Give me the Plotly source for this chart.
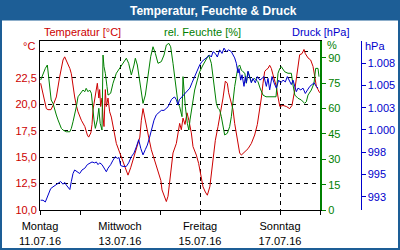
import pandas as pd
import plotly.graph_objects as go

# ---- data (hours since 11.07.16 00:00) ----
start = "2016-07-11"
x_range = ["2016-07-11", "2016-07-18"]
x_tickvals = ["2016-07-11", "2016-07-13", "2016-07-15", "2016-07-17"]
x_ticktext = ["Montag<br>11.07.16", "Mittwoch<br>13.07.16", "Freitag<br>15.07.16", "Sonntag<br>17.07.16"]

temp_h = [0.4, 3.8, 4.8, 6.6, 7.8, 9.8, 11.8, 13.8, 14.8, 16.4,
          17.9, 18.8, 19.8, 20.8, 21.8, 22.8, 24.8, 26.9, 28.4, 29.2,
          30.5, 31.2, 31.8, 32.8, 33.8, 34.4, 35.3, 35.8, 36.4, 37.2,
          37.8, 38.4, 39.2, 39.8, 40.8, 41.8, 42.8, 44.4, 45.8, 47.9,
          49.8, 51.8, 52.8, 54.4, 55.8, 57.8, 59.9, 60.8, 61.8, 62.8,
          63.8, 65.2, 66.8, 68.9, 70.8, 72.5, 73.2, 74.4, 75.8, 76.8,
          77.8, 78.8, 79.8, 81.8, 82.8, 83.8, 84.8, 85.8, 87.0, 88.2,
          89.3, 90.8, 91.8, 93.8, 95.2, 96.4, 97.8, 99.2, 100.4, 101.9,
          102.8, 103.8, 105.2, 106.8, 108.4, 109.8, 111.2, 112.4, 113.2, 114.5,
          115.8, 116.8, 117.8, 118.8, 119.8, 120.8, 122.9, 124.8, 126.8, 128.8,
          130.4, 131.9, 132.8, 133.8, 134.8, 135.8, 136.8, 137.8, 138.8, 139.8,
          140.8, 141.8, 142.8, 143.9, 145.8, 147.8, 149.8, 151.2, 152.9, 154.4,
          155.8, 157.2, 158.4, 159.2, 160.8, 162.4, 163.8, 164.9, 165.8, 166.8,
          167.8]
temp = [22.0, 19.6, 19.5, 19.5, 19.9, 20.7, 22.6, 24.2, 24.5, 24.0,
        23.4, 22.9, 21.7, 20.7, 19.9, 19.3, 18.5, 17.9, 17.1, 16.9,
        17.3, 18.1, 19.5, 20.4, 21.7, 22.0, 20.6, 21.4, 19.8, 20.6,
        18.8, 17.9, 21.4, 19.8, 20.6, 19.3, 18.8, 17.6, 16.3, 15.4,
        14.6, 13.6, 13.3, 14.0, 14.7, 15.7, 16.9, 18.5, 19.6, 18.8,
        17.9, 16.9, 15.7, 14.6, 13.8, 12.8, 11.9, 11.3, 10.8, 11.3,
        12.5, 14.1, 15.4, 16.3, 17.4, 18.2, 17.6, 18.7, 18.1, 19.2,
        18.5, 17.3, 16.0, 15.2, 14.4, 13.5, 12.2, 11.7, 11.4, 12.2,
        13.5, 15.1, 16.6, 17.9, 19.2, 20.6, 22.2, 22.0, 21.1, 20.3,
        19.5, 18.2, 17.3, 16.6, 15.4, 15.2, 15.5, 15.8, 16.3, 17.1,
        18.1, 19.5, 20.6, 22.0, 23.1, 23.3, 23.4, 23.7, 23.4, 22.8,
        22.3, 21.7, 20.7, 19.8, 19.9, 19.8, 19.6, 19.9, 21.4, 23.3,
        24.7, 24.8, 25.2, 24.8, 24.4, 24.2, 23.6, 22.6, 21.7, 21.4,
        21.1]

hum_h = [0.4, 1.8, 3.2, 4.4, 5.2, 5.9, 6.7, 7.8, 8.8, 9.8,
         10.8, 11.8, 12.8, 13.8, 15.8, 17.9, 18.8, 19.8, 20.8, 21.8,
         22.8, 24.4, 25.8, 26.9, 27.7, 28.8, 29.8, 30.8, 31.4, 32.4,
         33.2, 34.4, 35.3, 36.1, 37.2, 37.8, 38.4, 39.2, 40.2, 40.8,
         42.4, 43.8, 45.8, 47.9, 49.8, 51.8, 53.2, 54.8, 56.4, 57.2,
         58.4, 59.9, 60.8, 61.8, 63.2, 64.8, 66.4, 67.8, 69.2, 70.8,
         72.8, 74.4, 75.8, 77.3, 78.4, 79.8, 80.8, 81.8, 82.8, 83.8,
         85.2, 85.8, 86.4, 87.2, 88.4, 89.3, 90.0, 90.8, 91.8, 92.8,
         94.4, 95.8, 97.8, 99.8, 101.2, 102.8, 103.8, 104.8, 105.8, 106.8,
         107.8, 108.8, 109.8, 110.8, 112.4, 113.8, 114.8, 115.8, 116.8, 117.8,
         118.8, 119.8, 120.8, 121.8, 122.9, 123.8, 124.8, 125.8, 126.8, 128.8,
         130.8, 132.0, 133.8, 135.6, 138.6, 141.6, 142.8, 143.9, 144.8, 146.8,
         148.8, 150.8, 151.8, 152.9, 154.8, 156.8, 158.8, 159.8, 160.8, 162.8,
         164.4, 165.4, 166.8, 167.4]
hum = [76.9, 80.9, 83.8, 85.8, 78.9, 69.1, 65.1, 63.1, 59.2, 56.2,
       53.3, 50.3, 48.3, 47.3, 46.3, 46.3, 48.3, 52.2, 56.2, 61.1,
       67.0, 69.1, 71.0, 70.0, 72.0, 70.0, 71.0, 69.1, 61.1, 53.3,
       48.3, 53.3, 60.2, 51.3, 47.3, 91.7, 84.8, 80.9, 73.0, 68.0,
       69.1, 75.0, 80.9, 83.8, 86.8, 89.8, 86.8, 79.9, 85.8, 89.8,
       85.8, 76.9, 71.0, 63.1, 68.0, 78.9, 90.7, 96.6, 92.7, 86.8,
       87.8, 91.7, 97.6, 98.6, 96.6, 86.8, 78.9, 71.0, 63.1, 61.1,
       55.2, 78.9, 69.1, 61.1, 51.3, 47.3, 53.3, 59.2, 65.1, 71.0,
       76.9, 81.8, 85.8, 89.8, 91.7, 86.8, 78.9, 69.1, 63.1, 60.2,
       59.2, 55.2, 49.3, 44.4, 45.4, 49.3, 55.2, 66.1, 73.0, 78.9,
       84.8, 85.8, 82.8, 81.8, 80.9, 75.0, 81.8, 78.9, 75.9, 77.9,
       75.9, 72.2, 68.0, 67.0, 67.0, 67.0, 80.9, 83.8, 84.8, 81.8,
       80.9, 80.9, 74.0, 68.0, 66.1, 65.1, 63.1, 64.1, 68.0, 71.0,
       75.0, 83.8, 83.8, 78.9]

pres_h = [0.4, 1.8, 3.2, 4.8, 6.4, 7.8, 9.2, 10.8, 12.4, 13.8,
          14.8, 15.8, 16.8, 17.9, 18.8, 19.8, 20.8, 22.4, 23.8, 25.2,
          26.9, 28.4, 29.8, 31.2, 32.8, 33.8, 34.8, 35.8, 37.2, 38.4,
          39.8, 40.8, 42.4, 43.8, 45.2, 46.4, 47.4, 48.4, 49.8, 51.8,
          53.2, 54.8, 56.4, 57.8, 59.2, 60.5, 61.8, 63.2, 64.4, 65.8,
          67.2, 68.4, 69.8, 71.2, 72.8, 74.4, 75.8, 76.8, 77.8, 78.8,
          79.8, 80.8, 81.8, 82.8, 83.6, 85.1, 86.4, 88.0, 89.9, 91.2,
          92.8, 94.4, 95.8, 97.2, 98.8, 100.4, 101.8, 102.8, 103.8, 105.2,
          106.4, 107.8, 109.2, 110.4, 111.8, 113.2, 114.8, 115.8, 116.8, 117.8,
          118.8, 119.4, 120.4, 121.2, 122.4, 123.2, 123.8, 124.8, 125.8, 126.8,
          127.8, 129.2, 130.4, 131.9, 133.2, 134.4, 135.8, 136.8, 137.8, 139.2,
          140.4, 141.8, 143.2, 144.5, 145.8, 147.2, 148.4, 149.8, 150.8, 151.8,
          152.9, 153.8, 154.8, 156.5, 157.8, 159.2, 160.5, 161.9, 163.2, 164.4,
          165.8, 166.8]
pres = [992.1, 992.1, 991.9, 992.7, 993.4, 993.6, 993.8, 994.0, 994.2, 993.9,
        994.1, 993.8, 993.6, 993.3, 994.2, 995.1, 995.5, 995.3, 995.1, 995.5,
        995.7, 996.1, 996.3, 996.4, 996.3, 996.4, 996.1, 996.3, 996.1, 995.7,
        995.3, 995.7, 996.1, 996.6, 997.0, 996.8, 996.9, 996.0, 995.9, 995.9,
        996.3, 997.0, 997.4, 998.1, 998.9, 997.9, 997.2, 997.8, 998.3, 999.2,
        1000.2, 1001.1, 1001.7, 1001.9, 1002.2, 1002.2, 1002.4, 1002.6, 1003.0, 1003.4,
        1003.6, 1003.7, 1003.4, 1002.8, 1003.4, 1003.7, 1003.9, 1004.3, 1004.7, 1005.3,
        1006.0, 1006.7, 1007.3, 1007.7, 1007.9, 1008.2, 1008.4, 1008.2, 1008.8, 1008.6,
        1008.2, 1009.0, 1008.6, 1009.2, 1008.8, 1009.0, 1008.8, 1008.4, 1008.1, 1007.5,
        1006.4, 1006.9, 1005.6, 1006.2, 1004.9, 1006.0, 1005.3, 1006.6, 1006.0, 1005.3,
        1005.8, 1005.3, 1006.0, 1005.6, 1005.8, 1006.0, 1004.9, 1005.8, 1004.5, 1006.0,
        1005.3, 1004.7, 1005.6, 1005.3, 1005.6, 1005.4, 1006.0, 1005.4, 1005.1, 1005.6,
        1004.9, 1004.3, 1004.7, 1004.5, 1004.7, 1004.1, 1004.5, 1004.9, 1005.1, 1005.3,
        1004.9, 1004.7]

temp_ticks = [10, 12.5, 15, 17.5, 20, 22.5, 25]
temp_ticktext = ["10,0", "12,5", "15,0", "17,5", "20,0", "22,5", ""]
hum_ticks = [0, 15, 30, 45, 60, 75, 90]
pres_ticks = [992.5, 995, 997.5, 1000, 1002.5, 1005, 1007.5]

# ---- styles ----
RED, GREEN, BLUE = "#cc0000", "#008000", "#0000cc"
BAR = "#1d5e96"
FONT = "Liberation Sans"
W, H = 400, 250

def tt(hours):
    return pd.Timestamp(start) + pd.to_timedelta(hours, unit="h")

def px(x):
    return x / W

def py(y):
    return 1 - y / H

fig = go.Figure()
fig.add_trace(go.Scatter(x=tt(temp_h), y=temp, mode="lines", line=dict(color=RED, width=1), yaxis="y"))
fig.add_trace(go.Scatter(x=tt(hum_h), y=hum, mode="lines", line=dict(color=GREEN, width=1), yaxis="y2"))
fig.add_trace(go.Scatter(x=tt(pres_h), y=pres, mode="lines", line=dict(color=BLUE, width=1), yaxis="y3"))

fig.update_layout(
    width=W, height=H, margin=dict(l=0, r=0, t=0, b=0, autoexpand=False),
    paper_bgcolor="white", plot_bgcolor="white", showlegend=False,
    separators=",.",
    font=dict(family=FONT, size=11, color="black"),
    xaxis=dict(
        domain=[px(40), px(320)], type="date", automargin=False,
        range=x_range,
        tickvals=x_tickvals, ticktext=x_ticktext,
        ticks="outside", ticklen=4, tickcolor="black", ticklabelstandoff=2,
        showline=True, linecolor="black", linewidth=1, mirror=True,
        showgrid=True, gridcolor="black", gridwidth=1, griddash="4px,4px",
        minor=dict(dtick=86400000, tick0="2016-07-11", ticks="outside", ticklen=4, tickcolor="black", showgrid=False),
        tickfont=dict(size=11, color="black"), fixedrange=True,
    ),
    yaxis=dict(
        domain=[py(210), py(41)], range=[10, 26], automargin=False,
        tickvals=temp_ticks, ticktext=temp_ticktext,
        ticks="", showline=True, linecolor="black", linewidth=1,
        showgrid=True, gridcolor="black", gridwidth=1, griddash="4px,4px",
        zeroline=False, tickfont=dict(size=11, color=RED),
    ),
    yaxis2=dict(
        overlaying="y", side="right", anchor="x", range=[0, 100], automargin=False,
        tickvals=hum_ticks, ticks="outside", ticklen=4, tickcolor=GREEN,
        showline=True, linecolor=GREEN, linewidth=2, showgrid=False, zeroline=False,
        tickfont=dict(size=11, color=GREEN),
    ),
    yaxis3=dict(
        overlaying="y", side="right", anchor="free", position=px(360.5), range=[991, 1010],
        automargin=False,
        tickvals=pres_ticks, tickformat=",.0f", ticks="outside", ticklen=4, tickcolor=BLUE,
        showline=True, linecolor=BLUE, linewidth=1, showgrid=False, zeroline=False,
        tickfont=dict(size=11, color=BLUE),
    ),
    shapes=[
        dict(type="rect", xref="paper", yref="paper", x0=0, x1=1, y0=py(20.5), y1=1,
             fillcolor=BAR, line=dict(width=0), layer="below"),
        dict(type="rect", xref="paper", yref="paper", x0=0, x1=1, y0=0, y1=1,
             fillcolor="rgba(0,0,0,0)", line=dict(color=BAR, width=4)),
    ],
    annotations=[
        dict(text="<b>Temperatur, Feuchte &amp; Druck</b>", x=px(213), y=py(10.5), xref="paper", yref="paper",
             showarrow=False, xanchor="center", yanchor="middle", font=dict(size=12, color="white")),
        dict(text="Temperatur [°C]", x=px(42), y=py(32), xref="paper", yref="paper",
             showarrow=False, xanchor="left", yanchor="middle", font=dict(size=11, color=RED)),
        dict(text="rel. Feuchte [%]", x=px(203), y=py(32), xref="paper", yref="paper",
             showarrow=False, xanchor="center", yanchor="middle", font=dict(size=11, color=GREEN)),
        dict(text="Druck [hPa]", x=px(290), y=py(32), xref="paper", yref="paper",
             showarrow=False, xanchor="left", yanchor="middle", font=dict(size=11, color=BLUE)),
        dict(text="°C", x=px(37), y=py(46), xref="paper", yref="paper",
             showarrow=False, xanchor="right", yanchor="middle", font=dict(size=11, color=RED)),
        dict(text="%", x=px(325), y=py(45), xref="paper", yref="paper",
             showarrow=False, xanchor="left", yanchor="middle", font=dict(size=11, color=GREEN)),
        dict(text="hPa", x=px(363), y=py(46), xref="paper", yref="paper",
             showarrow=False, xanchor="left", yanchor="middle", font=dict(size=11, color=BLUE)),
    ],
)

fig.write_html("out.html", config={"displayModeBar": False})
